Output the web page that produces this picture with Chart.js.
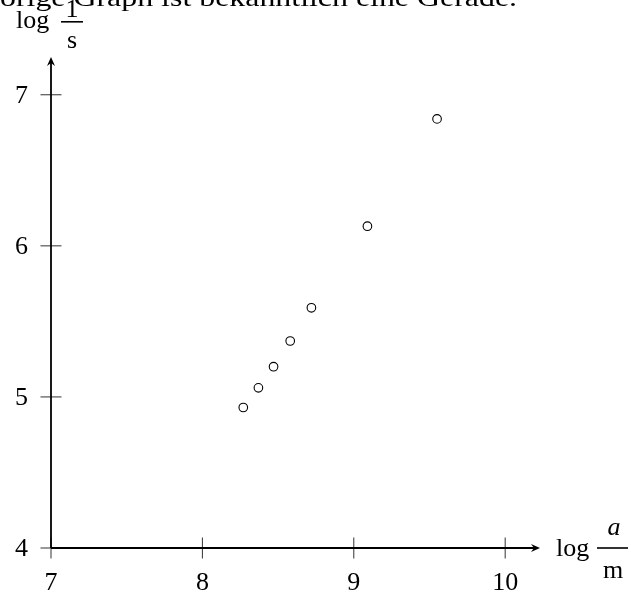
<!DOCTYPE html>
<html>
<head>
<meta charset="utf-8">
<script src="https://cdn.jsdelivr.net/npm/chart.js@4"></script>
<style>
  body { margin: 0; background: #fff; }
  canvas { display: block; }
</style>
</head>
<body>
<canvas id="logChart" width="631" height="594"></canvas>
<script>
// tick values on both axes
const xTicks = [7, 8, 9, 10];
const yTicks = [4, 5, 6, 7];
// measured points: log a/m vs log 1/s
const logA = [8.27, 8.37, 8.47, 8.58, 8.72, 9.09, 9.55];
const logInvS = [4.93, 5.06, 5.20, 5.37, 5.59, 6.13, 6.84];

const topText = 'orige Graph ist bekanntlich eine Gerade.';
const serif = '"Liberation Serif", "DejaVu Serif", serif';

const axesPlugin = {
    id: 'texAxes',
    beforeDatasetsDraw(chart) {
        const ctx = chart.ctx;
        const xs = chart.scales.x;
        const ys = chart.scales.y;
        const x0 = xs.getPixelForValue(xs.min);
        const y0 = ys.getPixelForValue(ys.min);
        const xEnd = xs.getPixelForValue(xs.max);
        const yEnd = ys.getPixelForValue(ys.max);

        ctx.save();
        // ticks (both sides of the axis)
        ctx.strokeStyle = '#333';
        ctx.lineWidth = 1;
        xTicks.forEach(v => {
            const px = xs.getPixelForValue(v);
            ctx.beginPath();
            ctx.moveTo(px, y0 - 10.5);
            ctx.lineTo(px, y0 + 10.5);
            ctx.stroke();
        });
        yTicks.forEach(v => {
            const py = ys.getPixelForValue(v);
            ctx.beginPath();
            ctx.moveTo(x0 - 10.5, py);
            ctx.lineTo(x0 + 10.5, py);
            ctx.stroke();
        });

        // axis lines
        ctx.strokeStyle = '#000';
        ctx.lineWidth = 1.8;
        ctx.beginPath();
        ctx.moveTo(x0, y0);
        ctx.lineTo(xEnd - 4, y0);
        ctx.moveTo(x0, y0);
        ctx.lineTo(x0, yEnd + 4);
        ctx.stroke();

        // arrow heads
        ctx.fillStyle = '#000';
        ctx.beginPath();
        ctx.moveTo(xEnd, y0);
        ctx.lineTo(xEnd - 9, y0 - 4);
        ctx.lineTo(xEnd - 6, y0);
        ctx.lineTo(xEnd - 9, y0 + 4);
        ctx.closePath();
        ctx.fill();
        ctx.beginPath();
        ctx.moveTo(x0, yEnd);
        ctx.lineTo(x0 - 4, yEnd + 9);
        ctx.lineTo(x0, yEnd + 6);
        ctx.lineTo(x0 + 4, yEnd + 9);
        ctx.closePath();
        ctx.fill();

        // tick labels
        ctx.font = '26px ' + serif;
        ctx.textBaseline = 'alphabetic';
        ctx.textAlign = 'center';
        xTicks.forEach(v => {
            ctx.fillText(String(v), xs.getPixelForValue(v), 590);
        });
        ctx.textAlign = 'right';
        ctx.textBaseline = 'middle';
        yTicks.forEach(v => {
            ctx.fillText(String(v), 28, ys.getPixelForValue(v) + 1);
        });

        // cut-off line of running text at the top
        ctx.textAlign = 'left';
        ctx.textBaseline = 'alphabetic';
        ctx.font = '25px ' + serif;
        const w = ctx.measureText(topText).width;
        ctx.save();
        ctx.scale(517 / w, 1);
        ctx.fillText(topText, 0, 6);
        ctx.restore();

        // y title: log 1/s
        ctx.font = '26px ' + serif;
        ctx.fillText('log', 16, 28);
        ctx.textAlign = 'center';
        ctx.fillText('1', 72, 17);
        ctx.fillText('s', 72, 48);
        ctx.fillRect(61, 21, 22, 1.6);

        // x title: log a/m
        ctx.textAlign = 'left';
        ctx.fillText('log', 556, 556);
        ctx.textAlign = 'center';
        ctx.font = 'italic 26px ' + serif;
        ctx.fillText('a', 614, 535);
        ctx.font = '26px ' + serif;
        ctx.fillText('m', 613, 578);
        ctx.fillRect(597, y0 - 0.8, 31, 1.6);
        ctx.restore();
    }
};

const ctx = document.getElementById('logChart').getContext('2d');
const points = logA.map((x, i) => ({ x: x, y: logInvS[i] }));

new Chart(ctx, {
    type: 'scatter',
    data: {
        datasets: [{
            data: points,
            pointStyle: 'circle',
            pointRadius: 4.3,
            pointBorderWidth: 1.1,
            borderColor: '#000',
            backgroundColor: '#fff',
            pointHoverRadius: 4.3
        }]
    },
    options: {
        responsive: false,
        animation: false,
        events: [],
        layout: {
            padding: { left: 51, right: 91, top: 57, bottom: 46 }
        },
        scales: {
            x: { type: 'linear', min: 7, max: 10.23, display: false },
            y: { type: 'linear', min: 4, max: 7.25, display: false }
        },
        plugins: {
            legend: { display: false },
            tooltip: { enabled: false }
        }
    },
    plugins: [axesPlugin]
});
</script>
</body>
</html>
